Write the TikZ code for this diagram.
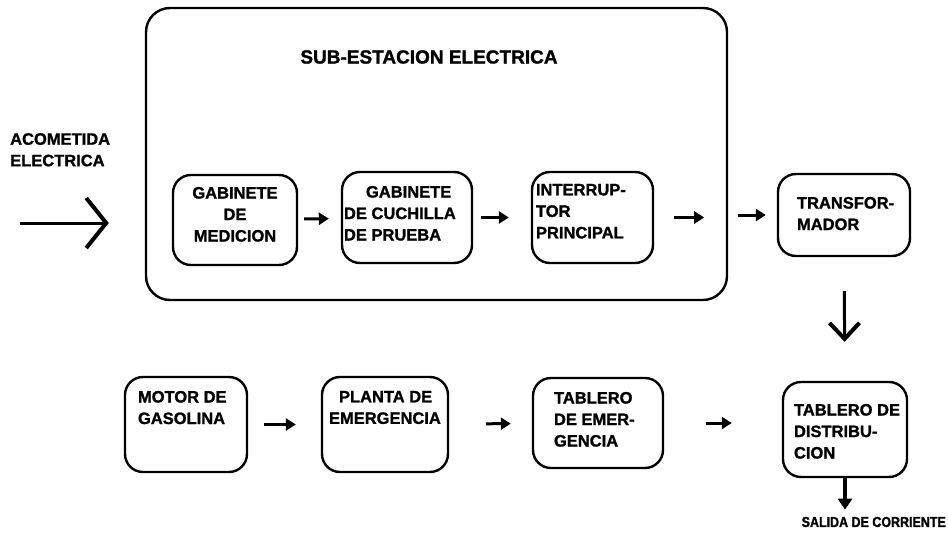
\documentclass[tikz,border=0pt]{standalone}
\usepackage{fontspec}
\setmainfont{Liberation Sans}[BoldFeatures={FakeBold=1.3}]
\newfontfamily\narrowfont{Liberation Sans}[FakeStretch=0.86, BoldFeatures={FakeBold=1.3}]
\usetikzlibrary{arrows.meta,positioning}

\tikzset{
	blk/.style={draw, line width=2.4pt, rounded corners=18pt, inner sep=0pt},
	txt/.style={inner sep=0pt, align=left, font=\fontsize{16.5}{21.5}\selectfont\bfseries},
	smallarr/.style={line width=3pt, -{Triangle[length=10pt,width=12pt]}},
	bigarr/.style={line width=3pt, -{Straight Barb[length=20pt,width=50pt,line width=4pt]}}
}

\begin{document}
\begin{tikzpicture}[x=1pt,y=-1pt]
	\useasboundingbox (0,0) rectangle (948,538);
	
	% sub-estacion
	\node[draw, line width=2.4pt, rounded corners=24pt, minimum width=581pt, minimum height=292pt] (sub) at (436.5,154) {};
	\node[txt, font=\fontsize{19}{22}\selectfont\bfseries] (subtit) at (429,57) {SUB-ESTACION ELECTRICA};
	
	\node[txt, anchor=north west] (acom) at (10,133) {ACOMETIDA\\ELECTRICA};
	\coordinate (ent) at (20,223);
	\draw[bigarr, shorten >=36pt] (ent) -- (ent -| sub.west);
	
	% primera fila
	\node[blk, minimum width=124pt, minimum height=90pt] (med) at (235,220) {};
	\node[txt, align=center, below=13pt of med.north] (medt) {GABINETE\\DE\\MEDICION};
	
	\node[blk, minimum width=130pt, minimum height=91pt] (cuch) at (407,217.5) {};
	\node[txt, below right=15pt and 3pt of cuch.north west] (cucht) {\hspace*{22pt}GABINETE\\DE CUCHILLA\\DE PRUEBA};
	
	\node[blk, minimum width=121pt, minimum height=91pt] (intr) at (592.5,217.5) {};
	\node[txt, below right=13pt and 5pt of intr.north west] (intrt) {INTERRUP-\\TOR\\PRINCIPAL};
	
	\node[blk, minimum width=132pt, minimum height=82pt] (trans) at (844,215) {};
	\node[txt, below right=24pt and 20pt of trans.north west] (transt) {TRANSFOR-\\MADOR};
	
	% segunda fila
	\node[blk, minimum width=122pt, minimum height=95pt] (motor) at (186,424.5) {};
	\node[txt, below right=15pt and 14pt of motor.north west] (motort) {MOTOR DE\\GASOLINA};
	
	\node[blk, minimum width=126pt, minimum height=95pt] (planta) at (385,424.5) {};
	\node[txt, below right=15pt and 8pt of planta.north west] (plantat) {\hspace*{10pt}PLANTA DE\\EMERGENCIA};
	
	\node[blk, minimum width=130pt, minimum height=90pt] (temerg) at (598,423) {};
	\node[txt, below right=15pt and 22pt of temerg.north west] (temergt) {TABLERO\\DE EMER-\\GENCIA};
	
	\node[blk, minimum width=124pt, minimum height=95pt] (tdist) at (845,429.5) {};
	\node[txt, below right=23pt and 12pt of tdist.north west] (tdistt) {TABLERO DE\\DISTRIBU-\\CION};
	
	\node[txt, font=\narrowfont\fontsize{14.5}{17}\selectfont\bfseries, anchor=east] (salida) at (946,522) {SALIDA DE CORRIENTE};
	
	% flechas
	\draw[smallarr, shorten <=6pt, shorten >=12pt] (med) -- (cuch);
	\draw[smallarr, shorten <=8pt, shorten >=22pt] (cuch) -- (intr);
	\draw[smallarr, shorten <=20pt, shorten >=24pt] (intr.east) -- (intr.east -| sub.east);
	\draw[smallarr, shorten <=10pt, shorten >=11pt] (trans.west -| sub.east) -- (trans.west);
	\draw[smallarr, shorten <=16pt, shorten >=25pt] (motor) -- (planta);
	\draw[smallarr, shorten <=37pt, shorten >=21pt] (planta) -- (temerg);
	\draw[smallarr, shorten <=42pt, shorten >=50pt] (temerg.east) -- (temerg.east -| tdist.west);
	\draw[bigarr, -{Straight Barb[length=16pt,width=30pt,line width=4pt]}, shorten <=34pt, shorten >=39pt] (trans) -- (tdist);
	\draw[smallarr, line width=3.5pt, -{Triangle[length=11pt,width=14pt]}, shorten >=7pt] (tdist.south) -- (tdist.south |- salida.north);
	
\end{tikzpicture}
\end{document}
